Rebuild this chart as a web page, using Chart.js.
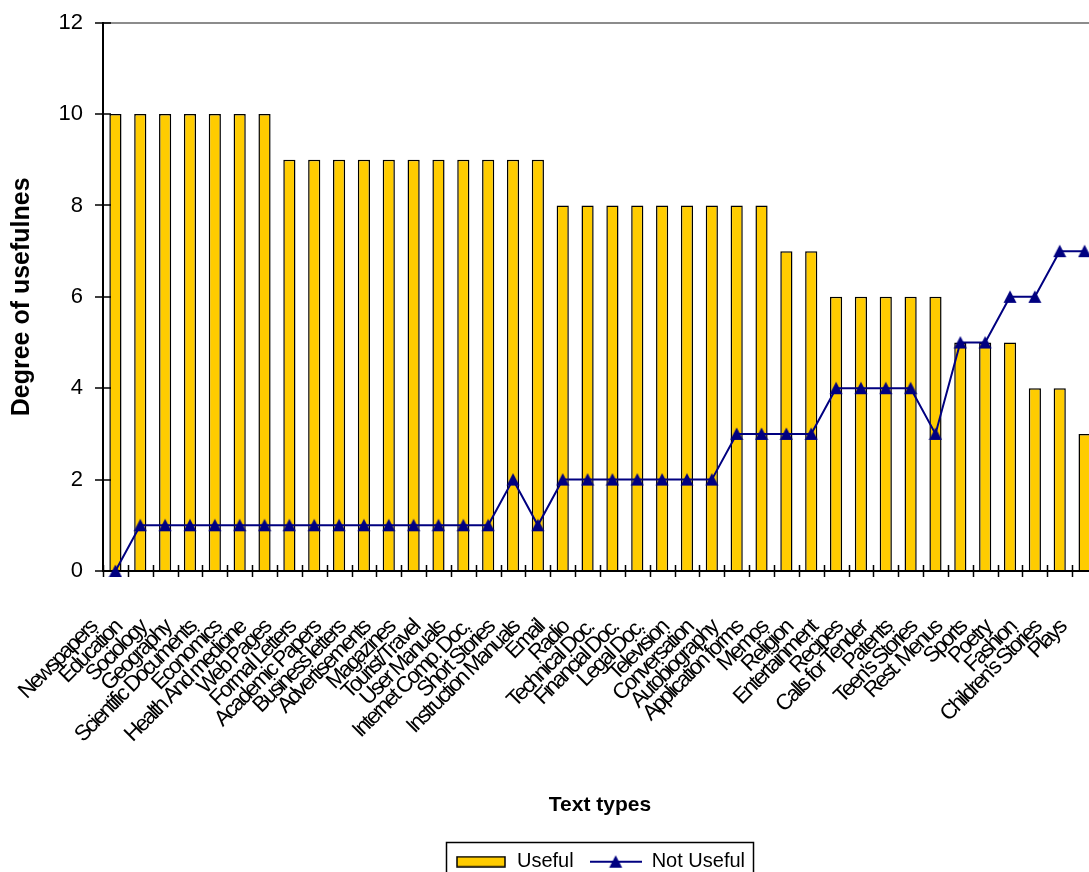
<!DOCTYPE html>
<html>
<head>
<meta charset="utf-8">
<script src="https://cdn.jsdelivr.net/npm/chart.js@4.4.1/dist/chart.umd.min.js"></script>
<style>
  html, body { margin: 0; padding: 0; background: #fff; }
  #wrap { width: 1089px; height: 872px; overflow: hidden; position: relative; }
  canvas { display: block; }
</style>
</head>
<body>
<div id="wrap"><canvas id="chart" width="1106" height="900"></canvas></div>
<script>
// Text types, ordered by rated usefulness
const categories = [
  'Newspapers', 'Education', 'Sociology', 'Geography', 'Scientific Documents',
  'Economics', 'Health And medicine', 'Web Pages', 'Formal Letters', 'Academic Papers',
  'Business letters', 'Advertisements', 'Magazines', 'Tourist/Travel', 'User Manuals',
  'Internet Comp. Doc.', 'Short Stories', 'Instruction Manuals', 'Email', 'Radio',
  'Technical Doc.', 'Financial Doc.', 'Legal Doc.', 'Television', 'Conversation',
  'Autobiography', 'Application forms', 'Memos', 'Religion', 'Entertainment',
  'Recipes', 'Calls for Tender', 'Patents', "Teen's Stories", 'Rest. Menus',
  'Sports', 'Poetry', 'Fashion', "Children's Stories", 'Plays'
];

const usefulValues = [
  10, 10, 10, 10, 10, 10, 10, 9, 9, 9,
  9, 9, 9, 9, 9, 9, 9, 9, 8, 8,
  8, 8, 8, 8, 8, 8, 8, 7, 7, 6,
  6, 6, 6, 6, 5, 5, 5, 4, 4, 3
];

const notUsefulValues = [
  0, 1, 1, 1, 1, 1, 1, 1, 1, 1,
  1, 1, 1, 1, 1, 1, 2, 1, 2, 2,
  2, 2, 2, 2, 2, 3, 3, 3, 3, 4,
  4, 4, 4, 3, 5, 5, 6, 6, 7, 7
];

const yTickValues = [0, 2, 4, 6, 8, 10, 12];

const FONT = "'Liberation Sans', Arial, Helvetica, sans-serif";
const BAR_FILL = '#FFCC00';
const LINE_COLOR = '#000080';

// Centered triangle marker
function makeTriangle(size) {
  const c = document.createElement('canvas');
  c.width = size; c.height = size;
  const g = c.getContext('2d');
  g.fillStyle = LINE_COLOR;
  g.beginPath();
  g.moveTo(size / 2, 0.5);
  g.lineTo(size - 0.5, size - 1);
  g.lineTo(0.5, size - 1);
  g.closePath();
  g.fill();
  return c;
}
const triangle = makeTriangle(14);

// Legend swatches
function makeBarSwatch() {
  const c = document.createElement('canvas');
  c.width = 50; c.height = 12;
  const g = c.getContext('2d');
  g.fillStyle = BAR_FILL;
  g.fillRect(1, 1, 48, 10);
  g.strokeStyle = '#000';
  g.lineWidth = 1.5;
  g.strokeRect(1, 1, 48, 10);
  return c;
}
function makeLineSwatch() {
  const c = document.createElement('canvas');
  c.width = 52; c.height = 14;
  const g = c.getContext('2d');
  g.strokeStyle = LINE_COLOR;
  g.lineWidth = 2;
  g.beginPath(); g.moveTo(0, 7); g.lineTo(52, 7); g.stroke();
  g.drawImage(triangle, 19, 0);
  return c;
}
const barSwatch = makeBarSwatch();
const lineSwatch = makeLineSwatch();

// Tick marks that cross both axes
const crossTicks = {
  id: 'crossTicks',
  afterDraw(chart) {
    const { ctx, chartArea, scales: { x, y } } = chart;
    ctx.save();
    ctx.strokeStyle = '#000';
    ctx.lineWidth = 1.5;
    ctx.beginPath();
    for (let i = 0; i <= categories.length; i++) {
      const px = Math.round(x.getPixelForValue(i - 0.5)) + 0.5;
      ctx.moveTo(px, chartArea.bottom - 6);
      ctx.lineTo(px, chartArea.bottom + 6);
    }
    y.ticks.forEach(t => {
      const py = Math.round(y.getPixelForValue(t.value));
      ctx.moveTo(chartArea.left - 8, py);
      ctx.lineTo(chartArea.left + 8, py);
    });
    ctx.stroke();
    ctx.restore();
  }
};

// Frame around the legend entries
const legendFrame = {
  id: 'legendFrame',
  afterDraw(chart) {
    const lg = chart.legend;
    if (!lg || !lg.legendHitBoxes || !lg.legendHitBoxes.length) return;
    const boxes = lg.legendHitBoxes;
    const left = Math.min(...boxes.map(b => b.left)) - 9;
    const right = Math.max(...boxes.map(b => b.left + b.width)) + 8;
    const top = Math.min(...boxes.map(b => b.top)) - 10;
    const bottom = Math.max(...boxes.map(b => b.top + b.height)) + 10;
    const ctx = chart.ctx;
    ctx.save();
    ctx.strokeStyle = '#000';
    ctx.lineWidth = 1.5;
    ctx.strokeRect(Math.round(left) + 0.5, Math.round(top) + 0.5, Math.round(right - left), Math.round(bottom - top));
    ctx.restore();
  }
};

// Condensed spacing for the slanted category labels
function condenseLabels(scale) {
  if (scale._condensed) return;
  scale._condensed = true;
  const draw = scale.drawLabels.bind(scale);
  scale.drawLabels = function (area) {
    const ctx = scale.ctx;
    ctx.save();
    ctx.letterSpacing = '-2.2px';
    draw(area);
    ctx.restore();
  };
}

new Chart(document.getElementById('chart'), {
  data: {
    labels: categories,
    datasets: [
      {
        type: 'line',
        label: 'Not Useful',
        data: notUsefulValues,
        borderColor: LINE_COLOR,
        borderWidth: 2,
        backgroundColor: LINE_COLOR,
        pointStyle: triangle,
        pointRadius: 7,
        pointHoverRadius: 7,
        tension: 0,
        clip: false,
        order: 0
      },
      {
        type: 'bar',
        label: 'Useful',
        data: usefulValues,
        backgroundColor: BAR_FILL,
        borderColor: '#000',
        borderWidth: 1.5,
        barPercentage: 0.49,
        categoryPercentage: 1,
        order: 1
      }
    ]
  },
  options: {
    responsive: false,
    animation: false,
    devicePixelRatio: 1,
    layout: { padding: { left: 0, top: 22.7, right: 4, bottom: 18.3 } },
    scales: {
      x: {
        type: 'category',
        offset: true,
        grid: { display: false, drawTicks: false },
        border: { display: true, color: '#000', width: 2 },
        ticks: {
          autoSkip: false,
          minRotation: 45,
          maxRotation: 45,
          padding: 44,
          labelOffset: -22,
          color: '#000',
          font: { family: FONT, size: 22 }
        },
        title: {
          display: true,
          text: 'Text types',
          color: '#000',
          font: { family: FONT, size: 21, weight: 'bold' },
          padding: { top: 0, bottom: 18 }
        },
        afterFit(scale) {
          scale.height = 264.7;
          scale.paddingLeft = 0;
          scale.paddingRight = 0;
          condenseLabels(scale);
        }
      },
      y: {
        min: 0,
        max: 12,
        afterBuildTicks(scale) { scale.ticks = yTickValues.map(v => ({ value: v })); },
        grid: {
          display: true,
          drawTicks: false,
          color: ctx => (ctx.tick && ctx.tick.value === 12 ? '#8c8c8c' : 'rgba(0,0,0,0)'),
          lineWidth: 2
        },
        border: { display: true, color: '#000', width: 2 },
        ticks: {
          padding: 20,
          color: '#000',
          font: { family: FONT, size: 22 }
        },
        title: {
          display: true,
          text: 'Degree of usefulnes',
          color: '#000',
          font: { family: FONT, size: 25, weight: 'bold' },
          padding: { top: 7, bottom: 0 }
        },
        afterFit(scale) {
          scale.width = 103;
          scale.paddingTop = 0;
          scale.paddingBottom = 0;
        }
      }
    },
    plugins: {
      legend: {
        display: true,
        position: 'bottom',
        fullSize: false,
        labels: {
          color: '#000',
          font: { family: FONT, size: 20 },
          usePointStyle: true,
          pointStyleWidth: 52,
          padding: 16,
          generateLabels() {
            return [
              { text: 'Useful', pointStyle: barSwatch, fillStyle: BAR_FILL, strokeStyle: '#000', lineWidth: 0, hidden: false, datasetIndex: 1, fontColor: '#000' },
              { text: 'Not Useful', pointStyle: lineSwatch, fillStyle: LINE_COLOR, strokeStyle: LINE_COLOR, lineWidth: 0, hidden: false, datasetIndex: 0, fontColor: '#000' }
            ];
          }
        }
      },
      tooltip: { enabled: false }
    }
  },
  plugins: [crossTicks, legendFrame]
});
</script>
</body>
</html>
